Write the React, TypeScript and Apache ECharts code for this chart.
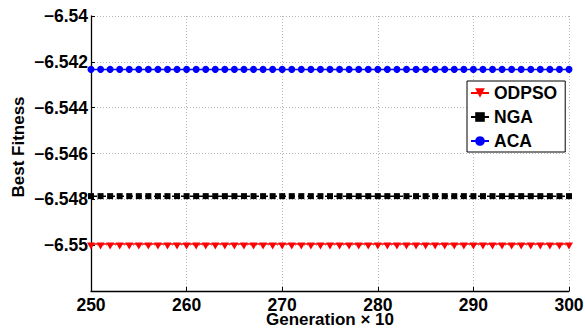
import React, { useEffect, useRef } from "react";
import * as echarts from "echarts";

const generations = [
  250, 251, 252, 253, 254, 255, 256, 257, 258, 259,
  260, 261, 262, 263, 264, 265, 266, 267, 268, 269,
  270, 271, 272, 273, 274, 275, 276, 277, 278, 279,
  280, 281, 282, 283, 284, 285, 286, 287, 288, 289,
  290, 291, 292, 293, 294, 295, 296, 297, 298, 299, 300,
];

const odpso = [
  -6.54995, -6.54995, -6.54995, -6.54995, -6.54995, -6.54995, -6.54995, -6.54995, -6.54995, -6.54995,
  -6.54995, -6.54995, -6.54995, -6.54995, -6.54995, -6.54995, -6.54995, -6.54995, -6.54995, -6.54995,
  -6.54995, -6.54995, -6.54995, -6.54995, -6.54995, -6.54995, -6.54995, -6.54995, -6.54995, -6.54995,
  -6.54995, -6.54995, -6.54995, -6.54995, -6.54995, -6.54995, -6.54995, -6.54995, -6.54995, -6.54995,
  -6.54995, -6.54995, -6.54995, -6.54995, -6.54995, -6.54995, -6.54995, -6.54995, -6.54995, -6.54995, -6.54995,
];

const nga = [
  -6.54786, -6.54786, -6.54786, -6.54786, -6.54786, -6.54786, -6.54786, -6.54786, -6.54786, -6.54786,
  -6.54786, -6.54786, -6.54786, -6.54786, -6.54786, -6.54786, -6.54786, -6.54786, -6.54786, -6.54786,
  -6.54786, -6.54786, -6.54786, -6.54786, -6.54786, -6.54786, -6.54786, -6.54786, -6.54786, -6.54786,
  -6.54786, -6.54786, -6.54786, -6.54786, -6.54786, -6.54786, -6.54786, -6.54786, -6.54786, -6.54786,
  -6.54786, -6.54786, -6.54786, -6.54786, -6.54786, -6.54786, -6.54786, -6.54786, -6.54786, -6.54786, -6.54786,
];

const aca = [
  -6.54233, -6.54233, -6.54233, -6.54233, -6.54233, -6.54233, -6.54233, -6.54233, -6.54233, -6.54233,
  -6.54233, -6.54233, -6.54233, -6.54233, -6.54233, -6.54233, -6.54233, -6.54233, -6.54233, -6.54233,
  -6.54233, -6.54233, -6.54233, -6.54233, -6.54233, -6.54233, -6.54233, -6.54233, -6.54233, -6.54233,
  -6.54233, -6.54233, -6.54233, -6.54233, -6.54233, -6.54233, -6.54233, -6.54233, -6.54233, -6.54233,
  -6.54233, -6.54233, -6.54233, -6.54233, -6.54233, -6.54233, -6.54233, -6.54233, -6.54233, -6.54233, -6.54233,
];

const seriesNames = ["ODPSO", "NGA", "ACA"];
const xAxisTitle = "Generation \u00d7 10";
const yAxisTitle = "Best Fitness";
const xTicks = { min: 250, max: 300, interval: 10 };
const yTicks = { min: -6.552, max: -6.54, interval: 0.002 };

const FONT = "'Liberation Sans', Arial, Helvetica, sans-serif";

export default function App() {
  const ref = useRef<HTMLDivElement>(null);

  useEffect(() => {
    if (!ref.current) return;
    const chart = echarts.init(ref.current, null, { renderer: "svg" });
    const pairs = (ys: number[]) => generations.map((g, i) => [g, ys[i]]);

    chart.setOption({
      animation: false,
      backgroundColor: "#ffffff",
      textStyle: { fontFamily: FONT },
      grid: { left: 91, right: 16, top: 16, bottom: 37, containLabel: false, outerBoundsMode: "none" },
      graphic: [
        {
          type: "text",
          x: 18.5,
          y: 147,
          rotation: Math.PI / 2,
          style: {
            text: yAxisTitle,
            fontFamily: FONT,
            fontWeight: "bold",
            fontSize: 17,
            fill: "#000000",
            align: "center",
            verticalAlign: "middle",
          },
        },
      ],
      legend: {
        orient: "vertical",
        left: 467,
        top: 81,
        data: seriesNames,
        backgroundColor: "#ffffff",
        borderColor: "#000000",
        borderWidth: 1,
        borderRadius: 0,
        padding: [2, 8, 1, 3],
        itemWidth: 18,
        itemHeight: 12,
        itemGap: 4,
        textStyle: {
          fontFamily: FONT,
          fontWeight: "bold",
          fontSize: 17.5,
          color: "#000000",
          lineHeight: 20,
        },
      },
      xAxis: {
        type: "value",
        min: xTicks.min,
        max: xTicks.max,
        interval: xTicks.interval,
        name: xAxisTitle,
        nameLocation: "middle",
        nameGap: 21.5,
        nameMoveOverlap: false,
        nameTextStyle: {
          fontFamily: FONT,
          fontWeight: "bold",
          fontSize: 17,
          lineHeight: 13,
          color: "#000000",
        },
        axisLine: { show: true, lineStyle: { color: "#000000", width: 1.3 } },
        axisTick: { show: true, inside: true, length: 4, lineStyle: { color: "#000000" } },
        axisLabel: {
          fontFamily: FONT,
          fontWeight: "bold",
          fontSize: 17.5,
          lineHeight: 13,
          color: "#000000",
          margin: 7,
        },
        splitLine: {
          show: true,
          lineStyle: { color: "#b8b8b8", type: [1, 2], width: 1 },
        },
      },
      yAxis: {
        type: "value",
        min: yTicks.min,
        max: yTicks.max,
        interval: yTicks.interval,
        axisLine: { show: true, lineStyle: { color: "#000000", width: 1.3 } },
        axisTick: { show: true, inside: true, length: 4, lineStyle: { color: "#000000" } },
        axisLabel: {
          fontFamily: FONT,
          fontWeight: "bold",
          fontSize: 17.5,
          color: "#000000",
          margin: 3,
          formatter: (v: number) => {
            if (Math.abs(v - yTicks.min) < 1e-7) return "";
            const s = parseFloat(v.toFixed(3)).toString();
            return s.replace("-", "\u2212");
          },
        },
        splitLine: {
          show: true,
          lineStyle: { color: "#b8b8b8", type: [1, 2], width: 1 },
        },
      },
      series: [
        {
          name: seriesNames[0],
          type: "line",
          data: pairs(odpso),
          symbol: "triangle",
          symbolRotate: 180,
          symbolSize: [8, 7],
          symbolOffset: [0, 2],
          color: "#ff0000",
          lineStyle: { color: "#ff0000", width: 1.5 },
          itemStyle: { color: "#ff0000" },
        },
        {
          name: seriesNames[1],
          type: "line",
          data: pairs(nga),
          symbol: "rect",
          symbolSize: 6,
          color: "#000000",
          lineStyle: { color: "#000000", width: 1.5, type: "dashed" },
          itemStyle: { color: "#000000" },
        },
        {
          name: seriesNames[2],
          type: "line",
          data: pairs(aca),
          symbol: "circle",
          symbolSize: 7,
          color: "#0000ff",
          lineStyle: { color: "#0000ff", width: 1.5 },
          itemStyle: { color: "#0000ff" },
        },
      ],
    });

    return () => chart.dispose();
  }, []);

  return <div ref={ref} style={{ width: 585, height: 328, position: "absolute", left: 0, top: 0 }} />;
}
